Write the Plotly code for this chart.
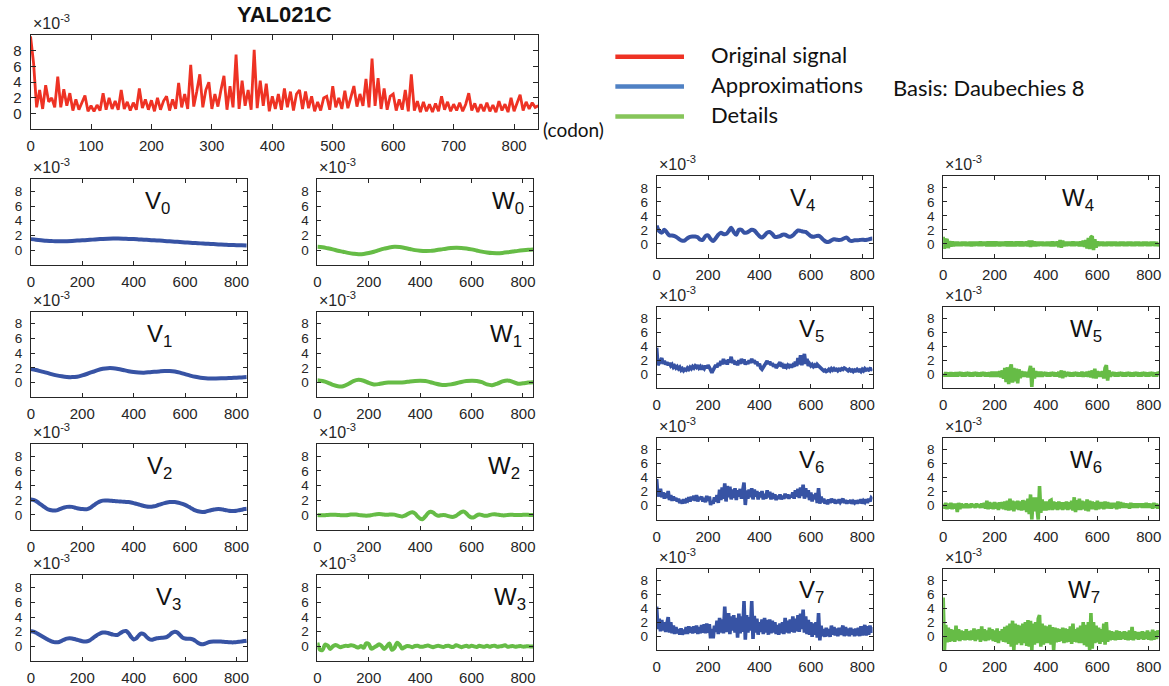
import plotly.graph_objects as go

W, H = 1169, 686

# ---------------- data (values in units of 1e-3) ----------------
codon5 = list(range(0, 841, 5))
codon10 = list(range(0, 841, 10))
codon20 = list(range(0, 841, 20))

original = [
    9.8, 6.4, 0.8, 3.0, 0.6, 3.6, 1.5, 2.0, 0.8, 4.7, 0.8, 3.1,
    1.0, 2.6, 0.4, 1.8, 0.5, 1.3, 2.3, 0.3, 1.0, 0.3, 1.1, 0.4,
    2.6, 0.5, 2.0, 0.6, 1.6, 0.5, 3.0, 0.6, 1.5, 0.4, 1.4, 0.5,
    3.2, 0.7, 1.8, 0.5, 1.7, 0.3, 2.0, 0.5, 1.6, 2.2, 0.4, 1.8,
    0.6, 3.9, 0.8, 2.5, 0.6, 6.2, 0.9, 2.8, 5.0, 0.8, 3.0, 4.0,
    0.6, 2.5, 0.9, 3.0, 4.8, 0.5, 3.5, 0.8, 7.5, 0.6, 4.2, 1.0,
    3.0, 0.5, 8.1, 0.7, 4.2, 1.0, 3.8, 0.3, 2.2, 0.6, 2.5, 0.5,
    3.2, 0.8, 2.8, 0.4, 2.5, 3.0, 0.6, 2.8, 0.7, 2.2, 0.3, 1.5,
    0.4, 2.0, 2.2, 0.5, 3.5, 0.8, 2.0, 0.6, 2.9, 0.7, 2.2, 3.5,
    0.9, 2.5, 1.0, 4.4, 0.8, 7.0, 1.0, 4.5, 0.6, 3.2, 0.5, 2.2,
    2.5, 0.4, 1.8, 0.5, 3.0, 0.3, 5.0, 0.4, 1.6, 0.2, 1.5, 0.3,
    1.2, 0.2, 1.3, 0.3, 2.2, 0.5, 1.5, 0.3, 1.2, 0.4, 1.4, 0.3,
    1.2, 2.6, 0.4, 1.3, 0.2, 1.2, 0.3, 1.4, 0.3, 1.1, 0.2, 1.6,
    0.4, 1.2, 0.2, 2.0, 0.3, 1.3, 2.4, 0.4, 1.5, 0.6, 1.4, 0.8,
    1.0,
]

V0 = [
    1.5, 1.42, 1.35, 1.28, 1.24, 1.2, 1.2, 1.22, 1.25, 1.3, 1.34, 1.38,
    1.43, 1.48, 1.52, 1.55, 1.57, 1.57, 1.55, 1.52, 1.5, 1.46, 1.42, 1.38,
    1.33, 1.3, 1.25, 1.2, 1.15, 1.1, 1.05, 1.0, 0.96, 0.92, 0.88, 0.84,
    0.8, 0.76, 0.73, 0.7, 0.68, 0.66, 0.64,
]
W0 = [
    0.45, 0.38, 0.25, 0.1, -0.08, -0.22, -0.37, -0.48, -0.55, -0.52, -0.4, -0.22,
    0.0, 0.2, 0.37, 0.45, 0.42, 0.3, 0.15, 0.0, -0.08, -0.12, -0.1, -0.02,
    0.08, 0.2, 0.28, 0.32, 0.3, 0.22, 0.1, -0.05, -0.2, -0.32, -0.4, -0.42,
    -0.38, -0.3, -0.2, -0.1, -0.02, 0.05, 0.1,
]
V1 = [
    1.85, 1.7, 1.52, 1.35, 1.15, 0.98, 0.85, 0.76, 0.74, 0.8, 0.98, 1.2,
    1.45, 1.7, 1.88, 1.96, 1.95, 1.85, 1.7, 1.55, 1.43, 1.37, 1.35, 1.4,
    1.47, 1.52, 1.56, 1.56, 1.5, 1.35, 1.15, 0.95, 0.78, 0.65, 0.58, 0.55,
    0.55, 0.57, 0.6, 0.63, 0.66, 0.7, 0.75,
]
W1 = [
    0.3, 0.2, 0.0, -0.3, -0.5, -0.5, -0.2, 0.2, 0.38, 0.25, -0.05, -0.25,
    -0.2, -0.05, 0.0, 0.02, 0.0, 0.05, 0.15, 0.22, 0.25, 0.2, 0.05, -0.15,
    -0.3, -0.32, -0.25, -0.1, 0.08, 0.2, 0.25, 0.22, 0.05, -0.25, -0.35, -0.15,
    0.15, 0.28, 0.1, -0.15, -0.1, 0.0, 0.05,
]
V2 = [
    2.1, 2.05, 1.9, 1.65, 1.4, 1.15, 0.9, 0.72, 0.63, 0.6, 0.63, 0.75,
    0.9, 1.02, 1.1, 1.12, 1.1, 1.02, 0.92, 0.85, 0.8, 0.78, 0.8, 0.95,
    1.2, 1.45, 1.68, 1.85, 1.95, 1.98, 1.98, 1.95, 1.9, 1.88, 1.85, 1.83,
    1.8, 1.78, 1.75, 1.7, 1.62, 1.52, 1.42, 1.32, 1.22, 1.15, 1.12, 1.12,
    1.18, 1.28, 1.4, 1.52, 1.62, 1.7, 1.75, 1.77, 1.75, 1.7, 1.62, 1.52,
    1.38, 1.2, 1.0, 0.8, 0.62, 0.5, 0.43, 0.42, 0.45, 0.55, 0.65, 0.72,
    0.78, 0.8, 0.78, 0.72, 0.65, 0.58, 0.55, 0.55, 0.58, 0.65, 0.72, 0.8,
    0.85,
]
W2 = [
    0.0, -0.03, -0.05, -0.03, 0.0, 0.02, 0.03, 0.02, 0.0, -0.03, -0.05, -0.03,
    0.0, 0.05, 0.07, 0.05, 0.0, -0.05, -0.08, -0.1, -0.08, -0.02, 0.05, 0.1,
    0.12, 0.1, 0.05, 0.02, 0.05, 0.08, 0.05, -0.05, -0.15, -0.2, -0.1, 0.1,
    0.3, 0.38, 0.2, -0.2, -0.5, -0.55, -0.2, 0.25, 0.45, 0.35, 0.05, -0.1,
    -0.05, 0.0, -0.05, -0.15, -0.25, -0.25, -0.1, 0.15, 0.4, 0.45, 0.2, -0.15,
    -0.35, -0.3, -0.05, 0.05, 0.0, -0.1, -0.1, 0.0, 0.08, 0.1, 0.05, 0.0,
    -0.05, -0.05, 0.0, 0.03, 0.02, 0.0, -0.02, 0.0, 0.02, 0.03, 0.02, 0.0,
    0.0,
]
V3 = [
    2.1, 2.0, 1.85, 1.65, 1.45, 1.25, 1.05, 0.85, 0.68, 0.58, 0.55, 0.6,
    0.75, 0.92, 1.05, 1.1, 1.08, 1.0, 0.9, 0.8, 0.7, 0.65, 0.7, 0.85,
    1.1, 1.35, 1.6, 1.78, 1.88, 1.9, 1.82, 1.7, 1.6, 1.55, 1.6, 1.85,
    2.05, 2.1, 1.8, 1.3, 0.95, 1.1, 1.5, 1.75, 1.65, 1.3, 1.0, 0.9,
    1.0, 1.1, 1.15, 1.18, 1.2, 1.3, 1.55, 1.85, 2.0, 1.9, 1.55, 1.2,
    1.08, 1.05, 1.05, 0.95, 0.75, 0.5, 0.32, 0.3, 0.4, 0.55, 0.62, 0.65,
    0.65, 0.65, 0.65, 0.62, 0.6, 0.58, 0.55, 0.55, 0.58, 0.62, 0.68, 0.72,
    0.78,
]
W3 = [
    0.5, -0.45, -0.5, 0.25, 0.1, -0.35, 0.0, 0.2, 0.05, -0.1, 0.0, 0.1,
    0.05, 0.15, 0.1, -0.05, -0.15, 0.05, -0.2, 0.4, 0.3, -0.3, -0.15, 0.05,
    0.3, 0.05, -0.35, 0.0, 0.4, -0.45, -0.2, 0.5, 0.2, -0.3, -0.1, 0.05,
    0.0, -0.1, 0.05, 0.1, -0.05, -0.05, 0.05, 0.12, 0.0, -0.1, 0.0, 0.08,
    0.0, -0.08, 0.05, 0.1, -0.05, -0.05, 0.15, 0.05, -0.1, 0.0, 0.1, -0.05,
    0.08, 0.0, -0.08, 0.1, 0.0, -0.05, 0.1, -0.05, 0.05, 0.1, -0.05, 0.0,
    0.05, 0.15, -0.05, 0.0, 0.05, -0.05, 0.0, 0.05, -0.03, 0.0, 0.03, -0.02,
    0.0,
]
V4 = [
    2.6, 1.8, 1.6, 2.0, 1.6, 1.2, 1.2, 1.1, 0.9, 0.6, 0.45, 0.5,
    0.8, 1.0, 1.05, 1.05, 0.95, 0.6, 0.6, 1.1, 1.2, 0.7, 0.4, 0.8,
    1.3, 1.6, 1.4, 1.4, 1.8, 2.3, 1.7, 1.3, 2.0, 2.0, 1.6, 1.6,
    1.8, 2.0, 1.9, 1.5, 1.1, 0.9, 1.2, 1.6, 1.7, 1.4, 1.0, 1.0,
    1.1, 1.3, 1.3, 1.1, 1.0, 1.2, 1.6, 1.9, 1.85, 1.75, 1.7, 1.4,
    1.1, 1.0, 1.1, 1.15, 0.9, 0.55, 0.3, 0.3, 0.5, 0.65, 0.6, 0.55,
    0.6, 0.8, 0.9, 0.5, 0.4, 0.5, 0.5, 0.55, 0.6, 0.55, 0.6, 0.7,
    0.75,
]
W4 = [
    1.0, -0.7, 0.4, 0.7, -0.6, 0.4, -0.4, 0.35, -0.35, 0.3, -0.3, 0.3,
    -0.3, 0.25, -0.3, 0.3, -0.25, 0.3, -0.3, 0.25, -0.3, 0.3, -0.35, 0.3,
    -0.3, 0.3, -0.25, 0.3, -0.3, 0.35, -0.3, 0.3, -0.25, 0.3, -0.35, 0.35,
    -0.35, 0.35, -0.35, 0.35, -0.35, 0.35, -0.3, 0.3, -0.35, 0.3, -0.3, 0.3,
    -0.3, 0.35, -0.35, 0.35, -0.35, 0.35, -0.35, 0.3, -0.35, 0.35, -0.3, 0.35,
    -0.35, 0.35, -0.35, 0.3, -0.3, 0.35, -0.35, 0.45, -0.45, 0.45, -0.35, 0.35,
    -0.35, 0.3, -0.3, 0.3, -0.25, 0.3, -0.3, 0.25, -0.3, 0.3, -0.3, 0.3,
    -0.35, 0.35, -0.35, 0.3, -0.3, 0.35, -0.45, 0.55, -0.55, 0.45, -0.35, 0.3,
    -0.3, 0.3, -0.25, 0.3, -0.3, 0.35, -0.3, 0.3, -0.25, 0.3, -0.35, 0.35,
    -0.35, 0.45, -0.45, 0.55, -0.65, 0.85, -0.75, 0.95, 1.1, -0.9, 0.65, -0.55,
    0.35, -0.3, 0.3, -0.25, 0.3, -0.3, 0.25, -0.3, 0.3, -0.25, 0.3, -0.3,
    0.3, -0.25, 0.3, -0.3, 0.25, -0.3, 0.3, -0.25, 0.3, -0.3, 0.25, -0.3,
    0.3, -0.25, 0.3, -0.3, 0.25, -0.3, 0.3, -0.25, 0.3, -0.3, 0.25, -0.3,
    0.3, -0.25, 0.3, -0.3, 0.25, -0.3, 0.3, -0.25, 0.3, -0.3, 0.25, -0.3,
    0.1,
]
V5 = [
    3.8, 1.3, 1.6, 2.0, 2.3, 1.5, 1.9, 1.4, 1.7, 1.3, 1.6, 1.2,
    1.4, 1.0, 1.2, 0.9, 1.1, 0.8, 1.0, 0.6, 0.8, 0.5, 0.7, 0.6,
    0.9, 0.7, 1.0, 0.8, 1.1, 0.9, 1.2, 1.0, 1.3, 0.9, 1.1, 0.7,
    1.0, 0.8, 1.2, 0.9, 1.3, 1.0, 0.5, 0.2, 0.6, 0.9, 1.3, 1.0,
    1.6, 1.2, 1.9, 1.4, 2.2, 1.5, 2.0, 1.4, 2.1, 1.7, 2.5, 1.6,
    2.0, 1.4, 1.8, 1.3, 2.0, 1.5, 2.2, 1.6, 2.1, 1.4, 1.8, 1.5,
    2.0, 1.6, 2.2, 1.7, 2.0, 1.5, 1.8, 1.2, 1.5, 0.9, 0.7, 1.0,
    1.4, 1.6, 1.9, 1.5, 1.8, 1.3, 1.6, 1.1, 1.4, 0.9, 1.2, 1.4,
    1.7, 1.1, 1.3, 0.9, 1.2, 1.0, 1.3, 1.1, 1.4, 1.0, 1.3, 1.1,
    1.8, 1.2, 2.3, 1.4, 2.7, 1.3, 2.5, 2.9, 1.5, 2.2, 1.2, 1.5,
    1.2, 1.4, 1.1, 1.3, 1.0, 1.4, 1.2, 1.0, 0.9, 0.7, 0.5, 0.6,
    0.4, 0.5, 0.7, 0.5, 0.8, 0.6, 0.8, 0.6, 0.7, 0.5, 0.7, 0.6,
    0.8, 0.7, 0.9, 0.8, 0.6, 0.5, 0.7, 0.5, 0.6, 0.4, 0.6, 0.5,
    0.7, 0.5, 0.6, 0.4, 0.7, 0.5, 0.8, 0.6, 0.7, 0.6, 0.8, 0.7,
    0.8,
]
W5 = [
    0.1, -0.3, 0.3, -0.3, 0.25, -0.3, 0.3, -0.3, 0.25, -0.3, 0.3, -0.3,
    0.3, -0.25, 0.3, -0.3, 0.25, -0.3, 0.3, -0.25, 0.3, -0.3, 0.25, -0.3,
    0.3, -0.25, 0.3, -0.3, 0.25, -0.3, 0.3, -0.25, 0.3, -0.3, 0.25, -0.3,
    0.3, -0.35, 0.35, -0.35, 0.35, -0.35, 0.35, -0.35, 0.45, -0.45, 0.55, -0.65,
    0.9, -1.1, 1.0, -1.4, 0.8, 1.4, -1.2, 0.9, -1.0, 0.8, -1.3, 0.7,
    -0.55, 0.45, -0.35, 0.35, -0.35, 0.35, -0.45, 0.55, 1.2, -1.8, 0.9, -0.6,
    0.45, -0.35, 0.35, -0.35, 0.35, -0.35, 0.3, -0.25, 0.3, -0.3, 0.25, -0.3,
    0.3, -0.25, 0.3, -0.3, 0.25, -0.3, 0.35, -0.45, 0.55, -0.55, 0.45, -0.35,
    0.3, -0.25, 0.3, -0.3, 0.25, -0.3, 0.3, -0.25, 0.3, -0.3, 0.25, -0.3,
    0.35, -0.35, 0.3, -0.3, 0.35, -0.35, 0.45, -0.45, 0.55, -0.55, 0.8, -0.6,
    0.45, -0.35, 0.35, -0.35, 0.45, -0.6, 0.9, 1.3, -0.9, 0.55, -0.35, 0.3,
    -0.25, 0.3, -0.3, 0.25, -0.3, 0.3, -0.25, 0.3, -0.3, 0.25, -0.3, 0.3,
    -0.25, 0.3, -0.3, 0.25, -0.3, 0.3, -0.25, 0.3, -0.3, 0.25, -0.3, 0.3,
    -0.25, 0.3, -0.3, 0.25, -0.3, 0.3, -0.25, 0.3, -0.3, 0.25, -0.3, 0.3,
    0.1,
]
V6 = [
    3.8, 1.3, 2.0, 2.4, 1.2, 1.9, 1.0, 1.8, 1.1, 2.1, 0.8, 1.5,
    0.7, 1.3, 0.8, 1.1, 0.6, 1.0, 0.4, 0.8, 0.3, 0.9, 0.4, 0.8,
    0.7, 1.2, 0.6, 1.3, 0.8, 1.4, 0.7, 1.5, 0.6, 1.2, 0.9, 1.3,
    0.6, 1.1, 0.5, 1.4, 0.7, 1.3, 0.1, 0.6, 0.3, 1.2, 0.6, 1.5,
    0.4, 2.3, 0.8, 2.6, 1.0, 3.2, 0.6, 2.8, 1.2, 2.7, 0.9, 2.3,
    1.1, 2.5, 0.8, 2.2, 1.3, 2.4, 1.0, 2.0, 3.3, 0.1, 2.2, 1.0,
    2.3, 1.2, 2.5, 0.9, 2.3, 1.3, 2.1, 0.9, 1.9, 1.2, 2.1, 0.9,
    1.7, 1.0, 2.2, 1.2, 2.0, 0.9, 1.8, 1.0, 1.6, 0.8, 1.4, 1.0,
    1.6, 0.9, 1.4, 1.0, 1.7, 1.1, 1.6, 1.0, 1.5, 1.2, 1.9, 1.0,
    2.2, 1.3, 2.4, 1.1, 2.6, 1.4, 3.0, 1.0, 2.5, 1.2, 2.2, 0.8,
    1.9, 0.6, 1.6, 0.9, 1.8, 0.4, 2.5, 0.3, 1.3, 0.5, 1.0, 0.3,
    0.8, 0.2, 0.9, 0.4, 1.0, 0.5, 0.9, 0.3, 0.8, 0.4, 0.9, 0.5,
    0.8, 1.0, 0.4, 0.8, 0.3, 0.7, 0.4, 0.8, 0.3, 0.6, 0.4, 0.7,
    0.3, 0.8, 0.4, 0.9, 0.3, 0.7, 0.5, 0.9, 0.4, 1.0, 0.6, 1.1,
    0.9,
]
W6 = [
    0.3, -0.4, 0.4, -0.5, 0.3, -0.4, 0.4, -0.5, 0.3, -0.4, 0.3, -0.9,
    0.4, -0.5, 0.3, -0.3, 0.2, -0.3, 0.3, -0.3, 0.2, -0.3, 0.3, -0.2,
    0.2, -0.3, 0.3, -0.2, 0.2, -0.3, 0.3, -0.3, 0.4, -0.4, 0.7, -0.5,
    0.5, -0.4, 0.4, -0.5, 0.5, -0.4, 0.4, -0.6, 0.5, -0.4, 0.5, -0.5,
    0.6, -0.6, 0.7, -0.7, 1.0, -0.6, 0.7, -0.8, 0.6, -0.5, 0.7, -0.6,
    0.6, -0.7, 0.8, -0.6, 0.7, -0.9, 1.0, -1.2, 1.6, -2.0, 1.2, -0.8,
    1.2, -1.0, -2.0, 2.8, -1.0, 0.9, -0.7, 0.6, -0.7, 0.6, -0.6, 0.7,
    0.8, -0.6, 0.6, -0.5, 0.5, -0.6, 0.6, -0.5, 0.5, -0.6, 0.5, -0.5,
    0.6, -0.6, 0.5, -0.5, 0.7, -0.7, 1.2, -0.9, 0.8, -0.6, 1.0, -0.6,
    0.7, -0.5, 0.6, -0.7, 0.9, -0.8, 0.7, -0.5, 0.6, -0.5, 0.5, -0.6,
    0.7, -0.5, 0.5, -0.4, 0.5, -0.5, 0.6, -0.4, 0.5, -0.4, 0.4, -0.4,
    0.4, -0.3, 0.4, -0.5, 0.6, -0.4, 0.5, -0.3, 0.4, -0.3, 0.3, -0.3,
    0.3, -0.4, 0.4, -0.3, 0.3, -0.3, 0.3, -0.3, 0.3, -0.2, 0.3, -0.3,
    0.3, -0.3, 0.4, -0.3, 0.3, -0.3, 0.3, -0.4, 0.4, -0.3, 0.3, -0.4,
    0.2,
]
V7 = [
    4.2, 1.0, 2.5, 0.7, 2.3, 0.8, 2.0, 0.6, 1.8, 2.7, 0.5, 2.0,
    0.4, 1.5, 0.3, 1.3, 0.4, 1.0, 0.2, 1.1, 0.2, 0.9, 0.3, 1.3,
    0.3, 1.4, 0.5, 1.3, 0.4, 1.4, 0.5, 1.5, 0.3, 1.3, 0.4, 1.6,
    0.5, 1.7, 0.4, 1.8, 0.5, 1.7, -0.3, 1.0, -0.3, 1.5, 0.6, 2.2,
    0.3, 2.6, 0.5, 2.4, 0.4, 4.2, 0.6, 2.5, 3.3, 0.3, 2.8, 0.8,
    3.0, 0.5, 2.6, -0.2, 3.2, 0.4, 2.8, 0.6, 5.0, -0.5, 3.0, 0.5,
    2.7, 0.8, 5.0, -0.4, 2.9, 0.5, 2.5, 0.2, 2.0, 0.6, 2.4, 0.3,
    2.6, 0.5, 2.3, 0.2, 2.4, 0.4, 2.2, 0.5, 2.0, 0.3, 1.6, 0.2,
    1.8, 0.4, 2.0, 0.3, 2.6, 0.5, 2.2, 0.4, 2.4, 0.6, 2.8, 0.5,
    2.5, 0.7, 3.0, 0.6, 3.2, 1.0, 3.8, 0.5, 2.8, 0.3, 2.3, 0.2,
    2.0, -0.1, 1.8, 0.2, 2.0, -0.2, 3.3, -0.6, 1.5, 0.0, 1.0, -0.1,
    1.2, 0.0, 1.0, -0.1, 1.5, 0.2, 1.3, 0.1, 1.1, 0.0, 1.2, 0.2,
    1.0, 1.5, 0.0, 1.3, 0.1, 1.1, 0.0, 1.2, 0.2, 1.0, 0.0, 1.1,
    0.1, 1.2, 0.0, 1.4, 0.1, 1.2, 1.6, 0.1, 1.4, 0.2, 1.5, 0.5,
    1.3,
]
W7 = [
    5.5, -2.0, 1.6, -0.9, 1.2, -0.8, 1.0, -0.7, 0.9, -0.8, 1.5, -0.6,
    1.0, -0.7, 0.8, -0.5, 0.7, -0.6, 1.0, -0.5, 0.7, -0.6, 0.8, -0.5,
    1.1, -0.7, 0.9, -0.5, 1.0, -0.8, 1.4, -0.6, 1.0, -0.7, 0.8, -0.6,
    1.2, -0.5, 1.0, -0.7, 0.8, -0.8, 1.1, -1.0, 0.7, -0.6, 1.0, -0.8,
    1.3, -0.9, 1.5, -1.1, 1.8, -1.5, 2.2, -2.0, 1.8, -1.2, 1.6, -1.0,
    1.5, -1.3, 1.8, -1.0, 2.0, -1.4, 2.3, -1.5, 2.2, -2.0, 1.8, -1.2,
    2.0, -1.0, 2.5, 3.0, -1.5, 1.8, -1.2, 1.5, -1.0, 1.4, -1.0, 1.6,
    -1.2, 1.3, -2.0, 1.2, -0.9, 1.1, -0.8, 1.0, -0.7, 1.2, -1.0, 1.1,
    -0.9, 1.0, -0.8, 1.4, -1.1, 1.8, -0.8, 1.0, -0.9, 1.2, -1.0, 1.5,
    -1.0, 2.0, -1.3, 1.6, -1.5, 2.0, -2.0, 3.3, -1.8, 2.0, -1.0, 1.5,
    -0.9, 1.2, -1.1, 1.0, -0.8, 1.8, -1.2, 2.0, -0.8, 0.8, -0.6, 0.7,
    -0.5, 0.6, -0.6, 0.8, -0.5, 0.7, -0.5, 0.6, -0.4, 0.7, -0.5, 0.6,
    -0.6, 0.8, -0.5, 1.3, -0.6, 0.7, -0.4, 0.6, -0.5, 0.6, -0.4, 0.7,
    -0.5, 0.6, -0.4, 0.8, -0.5, 0.6, -0.6, 0.9, -0.5, 0.7, -0.4, 0.8,
    0.3,
]

x_ticks_top = [0, 100, 200, 300, 400, 500, 600, 700, 800]
x_ticks_sub = [0, 200, 400, 600, 800]
y_ticks = [0, 2, 4, 6, 8]

# ---------------- styling ----------------
RED = "#EE3224"
BLUE = "#3753A4"
GREEN = "#66BC46"
AXC = "#262626"
TICKFONT = "Liberation Sans, Arial, sans-serif"
TEXTFONT = "Lato, Liberation Sans, sans-serif"

# pixel boxes (left, right, top, bottom)
TOP_BOX = (26.7, 537.0, 35.0, 130.0)
LV, LW = (27.0, 244.0), (315.0, 532.0)
RV, RW = (656.0, 873.0), (944.0, 1161.0)
LROWS = [(180, 266), (313, 399), (446, 532), (578, 664)]
RROWS = [(177, 259), (308, 390), (440, 522), (571, 653)]

panels = [
    # name, xgrid, values, color, cols, rows, label-rel-x, spline
    ("V<sub>0</sub>", codon20, V0, BLUE, LV, LROWS[0], 0.52, True),
    ("W<sub>0</sub>", codon20, W0, GREEN, LW, LROWS[0], 0.80, True),
    ("V<sub>1</sub>", codon20, V1, BLUE, LV, LROWS[1], 0.53, True),
    ("W<sub>1</sub>", codon20, W1, GREEN, LW, LROWS[1], 0.79, True),
    ("V<sub>2</sub>", codon10, V2, BLUE, LV, LROWS[2], 0.53, True),
    ("W<sub>2</sub>", codon10, W2, GREEN, LW, LROWS[2], 0.78, True),
    ("V<sub>3</sub>", codon10, V3, BLUE, LV, LROWS[3], 0.57, True),
    ("W<sub>3</sub>", codon10, W3, GREEN, LW, LROWS[3], 0.81, True),
    ("V<sub>4</sub>", codon10, V4, BLUE, RV, RROWS[0], 0.61, True),
    ("W<sub>4</sub>", codon5, W4, GREEN, RW, RROWS[0], 0.54, False),
    ("V<sub>5</sub>", codon5, V5, BLUE, RV, RROWS[1], 0.65, False),
    ("W<sub>5</sub>", codon5, W5, GREEN, RW, RROWS[1], 0.58, False),
    ("V<sub>6</sub>", codon5, V6, BLUE, RV, RROWS[2], 0.65, False),
    ("W<sub>6</sub>", codon5, W6, GREEN, RW, RROWS[2], 0.58, False),
    ("V<sub>7</sub>", codon5, V7, BLUE, RV, RROWS[3], 0.65, False),
    ("W<sub>7</sub>", codon5, W7, GREEN, RW, RROWS[3], 0.57, False),
]

for name, xs, ys, *_ in panels:
    assert len(xs) == len(ys), (name, len(xs), len(ys))
assert len(original) == len(codon5)


def dom_x(l, r):
    return [l / W, r / W]


def dom_y(t, b):
    return [1 - b / H, 1 - t / H]


def axis_common(tickvals, ticklen, fsize):
    return dict(
        tickvals=tickvals, ticks="inside", ticklen=ticklen, tickwidth=1,
        tickcolor=AXC, mirror="allticks", showline=True, linecolor=AXC,
        linewidth=1, showgrid=False, zeroline=False, fixedrange=True,
        tickfont=dict(family=TICKFONT, size=fsize, color=AXC),
    )


def exponent_note(l, t):
    return dict(text="×10<sup>-3</sup>", x=l / W, y=1 - (t - 1) / H,
                xref="paper", yref="paper", xanchor="left",
                yanchor="bottom", showarrow=False,
                font=dict(family=TICKFONT, size=16, color=AXC))


fig = go.Figure()
layout = {}
annotations = []

# top panel: original signal
fig.add_trace(go.Scatter(x=codon5, y=original, mode="lines",
                         line=dict(color=RED, width=2.8),
                         xaxis="x", yaxis="y", showlegend=False,
                         hoverinfo="skip"))
l, r, t, b = TOP_BOX
layout["xaxis"] = dict(domain=dom_x(l, r), range=[0, 840], anchor="y",
                       ticklabelstandoff=3, **axis_common(x_ticks_top, 5, 15))
layout["yaxis"] = dict(domain=dom_y(t, b), range=[-2, 10], anchor="x",
                       ticklabelstandoff=5, **axis_common(y_ticks, 5, 15))
annotations.append(exponent_note(l, t))
annotations.append(dict(text="<b>YAL021C</b>", x=(l + r) / 2 / W, y=1 - 15 / H,
                        xref="paper", yref="paper", xanchor="center",
                        yanchor="middle", showarrow=False,
                        font=dict(family=TICKFONT, size=22, color="#111111")))
annotations.append(dict(text="(codon)", x=540 / W, y=1 - 130 / H,
                        xref="paper", yref="paper", xanchor="left",
                        yanchor="middle", showarrow=False,
                        font=dict(family=TEXTFONT, size=19, color="#111111")))

for i, (name, xs, ys, color, (l, r), (t, b), relx, spline) in enumerate(panels, start=2):
    fig.add_trace(go.Scatter(
        x=xs, y=ys, mode="lines",
        line=dict(color=color, width=4.0 if spline else 3.6,
                  shape="spline" if spline else "linear",
                  smoothing=1.0 if spline else None),
        xaxis=f"x{i}", yaxis=f"y{i}", showlegend=False, hoverinfo="skip"))
    layout[f"xaxis{i}"] = dict(domain=dom_x(l, r), range=[0, 840], anchor=f"y{i}",
                               ticklabelstandoff=3, **axis_common(x_ticks_sub, 4, 15))
    layout[f"yaxis{i}"] = dict(domain=dom_y(t, b), range=[-2, 9.65], anchor=f"x{i}",
                               ticklabelstandoff=5, **axis_common(y_ticks, 4, 13.5))
    annotations.append(exponent_note(l, t))
    annotations.append(dict(text=name, x=(l + relx * (r - l)) / W, y=1 - (t + 6) / H,
                            xref="paper", yref="paper", xanchor="left",
                            yanchor="top", showarrow=False,
                            font=dict(family=TICKFONT, size=24, color="#111111")))

# legend (drawn as decoration) and basis note
legend_items = [("Original signal", RED, 57), ("Approximations", "#4F81C4", 87),
                ("Details", "#86C55A", 117)]
shapes = []
for label, col, ypx in legend_items:
    shapes.append(dict(type="line", xref="paper", yref="paper",
                       x0=614.5 / W, x1=683.5 / W, y0=1 - ypx / H, y1=1 - ypx / H,
                       line=dict(color=col, width=4.5)))
    annotations.append(dict(text=label, x=709 / W, y=1 - (ypx - 2) / H,
                            xref="paper", yref="paper", xanchor="left",
                            yanchor="middle", showarrow=False,
                            font=dict(family=TEXTFONT, size=22, color="#111111")))
annotations.append(dict(text="Basis: Daubechies 8", x=892 / W, y=1 - 88 / H,
                        xref="paper", yref="paper", xanchor="left",
                        yanchor="middle", showarrow=False,
                        font=dict(family=TEXTFONT, size=22, color="#111111")))

fig.update_layout(
    width=W, height=H, margin=dict(l=0, r=0, t=0, b=0),
    paper_bgcolor="white", plot_bgcolor="white",
    showlegend=False, annotations=annotations, shapes=shapes,
    **layout,
)

fig.write_html("out.html", config={"displayModeBar": False})
